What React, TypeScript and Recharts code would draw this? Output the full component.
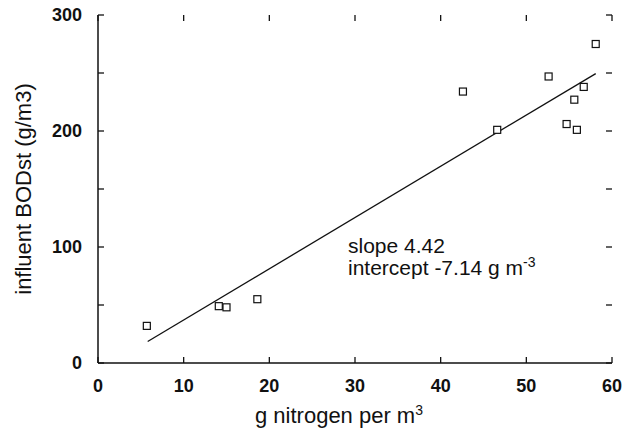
import { Scatter, ScatterChart, XAxis, YAxis } from 'recharts';

const NITROGEN = [5.7, 14.1, 15.0, 18.6, 42.6, 46.6, 52.6, 54.7, 55.6, 55.9, 56.7, 58.1];
const BOD = [32, 49, 48, 55, 234, 201, 247, 206, 227, 201, 238, 275];
const FIT_X = [5.8, 58.1];
const FIT_Y = [18.5, 249.5];
const X_TICKS = [0, 10, 20, 30, 40, 50, 60];
const Y_TICKS = [0, 50, 100, 150, 200, 250, 300];

const INK = '#111';
const FONT = '"Liberation Sans", Arial, sans-serif';
const TICK_LEN = 6;
const LABEL_GAP = 16;
// plot box in px (follows from the margins and axis sizes below)
const PLOT_TOP = 15;
const PLOT_BOTTOM = 363;
const PLOT_LEFT = 98;
const PLOT_RIGHT = 612;

const points = NITROGEN.map((x, i) => ({ x, y: BOD[i] }));
const fit = FIT_X.map((x, i) => ({ x, y: FIT_Y[i] }));

function OpenSquare(props: any) {
  const { cx, cy } = props;
  if (cx == null || cy == null) return null;
  return <rect x={cx - 3.5} y={cy - 3.5} width={7} height={7} fill="#fff" stroke={INK} strokeWidth={1.2} />;
}

const labelStyle = { fill: INK, fontSize: 18, fontWeight: 700, fontFamily: FONT };

// bottom tick: label plus inward marks on bottom and top edges
function XTick(props: any) {
  const { x, y, payload } = props;
  return (
    <g>
      <line x1={x} y1={PLOT_BOTTOM} x2={x} y2={PLOT_BOTTOM - TICK_LEN} stroke={INK} strokeWidth={1.3} />
      <line x1={x} y1={PLOT_TOP} x2={x} y2={PLOT_TOP + TICK_LEN} stroke={INK} strokeWidth={1.3} />
      <text x={x} y={y} dy="0.71em" textAnchor="middle" {...labelStyle}>
        {payload.value}
      </text>
    </g>
  );
}

function YTick(props: any) {
  const { x, y, payload } = props;
  return (
    <g>
      <line x1={PLOT_LEFT} y1={y} x2={PLOT_LEFT + TICK_LEN} y2={y} stroke={INK} strokeWidth={1.3} />
      <line x1={PLOT_RIGHT} y1={y} x2={PLOT_RIGHT - TICK_LEN} y2={y} stroke={INK} strokeWidth={1.3} />
      {payload.value % 100 === 0 && (
        <text x={x} y={y} dy="0.355em" textAnchor="end" {...labelStyle}>
          {payload.value}
        </text>
      )}
    </g>
  );
}

const nothing = () => <g />;

export default function App() {
  return (
    <div style={{ position: 'absolute', left: 0, top: 0, width: 625, height: 435, background: '#fff' }}>
      <ScatterChart
        width={625}
        height={435}
        margin={{ top: PLOT_TOP, right: 625 - PLOT_RIGHT, bottom: 0, left: 0 }}
      >
        <XAxis
          xAxisId="b"
          dataKey="x"
          type="number"
          domain={[0, 60]}
          ticks={X_TICKS}
          height={435 - PLOT_BOTTOM}
          stroke={INK}
          strokeWidth={1.5}
          tickLine={false}
          tickSize={0}
          tickMargin={LABEL_GAP}
          tick={XTick}
        />
        <YAxis
          yAxisId="l"
          dataKey="y"
          type="number"
          domain={[0, 300]}
          ticks={Y_TICKS}
          width={PLOT_LEFT}
          stroke={INK}
          strokeWidth={1.5}
          tickLine={false}
          tickSize={0}
          tickMargin={LABEL_GAP}
          tick={YTick}
        />
        <XAxis xAxisId="t" orientation="top" dataKey="x" type="number" domain={[0, 60]} height={0} stroke={INK} strokeWidth={1.5} tick={false} tickLine={false} />
        <YAxis yAxisId="r" orientation="right" dataKey="y" type="number" domain={[0, 300]} width={0} stroke={INK} strokeWidth={1.5} tick={false} tickLine={false} />
        <Scatter xAxisId="t" yAxisId="r" data={points} shape={nothing} isAnimationActive={false} />
        <Scatter
          xAxisId="b"
          yAxisId="l"
          data={fit}
          line={{ stroke: INK, strokeWidth: 1.3 }}
          shape={nothing}
          isAnimationActive={false}
        />
        <Scatter xAxisId="b" yAxisId="l" data={points} shape={OpenSquare} isAnimationActive={false} />
      </ScatterChart>
      <div
        style={{
          position: 'absolute',
          left: 255,
          top: 403,
          fontFamily: FONT,
          fontSize: 22,
          color: INK,
          whiteSpace: 'nowrap',
          lineHeight: '26px',
        }}
      >
        g nitrogen per m<sup style={{ fontSize: 14, lineHeight: 0 }}>3</sup>
      </div>
      <div
        style={{
          position: 'absolute',
          left: 24,
          top: 189,
          transform: 'translate(-50%, -50%) rotate(-90deg)',
          fontFamily: FONT,
          fontSize: 22,
          color: INK,
          whiteSpace: 'nowrap',
          lineHeight: '26px',
        }}
      >
        influent BODst (g/m3)
      </div>
      <div
        style={{
          position: 'absolute',
          left: 348,
          top: 235,
          fontFamily: FONT,
          fontSize: 21,
          color: INK,
          whiteSpace: 'nowrap',
          lineHeight: '22px',
        }}
      >
        <div>slope 4.42</div>
        <div>
          intercept -7.14 g m<sup style={{ fontSize: 14, lineHeight: 0 }}>-3</sup>
        </div>
      </div>
    </div>
  );
}
